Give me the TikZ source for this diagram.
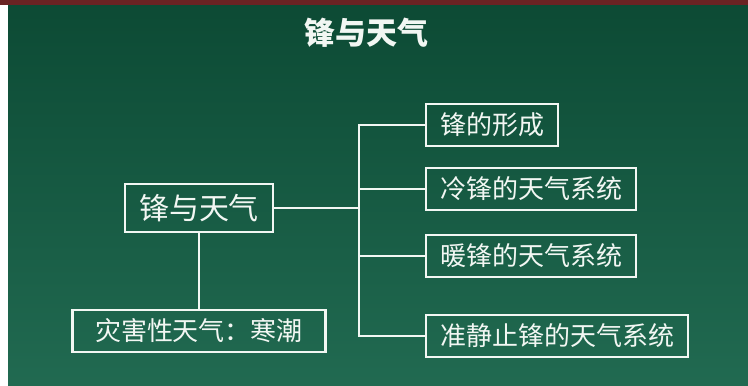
\documentclass[tikz,border=0pt]{standalone}
\usepackage{fontspec}
\setmainfont{Noto Sans CJK SC}
\usepackage{tikz}
\definecolor{boardTop}{HTML}{0C4A34}
\definecolor{boardBot}{HTML}{216A51}
\definecolor{boardRim}{HTML}{6A2323}
\definecolor{chalk}{HTML}{F2F7F3}
\tikzset{%
  % Specifications for style of nodes:
        base/.style = {rectangle, draw=chalk, line width=2.4pt,
                       text=chalk, inner xsep=14pt, inner ysep=0pt,
                       minimum height=42pt},
    mainTopic/.style = {base, minimum height=48pt,
                       font=\fontsize{30}{32}\selectfont},
     subTopic/.style = {base, anchor=west,
                       font=\fontsize{26}{28}\selectfont},
    hazardBox/.style = {base, minimum width=253pt,
                       font=\fontsize{26}{28}\selectfont},
       branch/.style = {draw=chalk, line width=2.4pt},
}

\begin{document}
\begin{tikzpicture}[x=1pt, y=-1pt]
  % board
  \useasboundingbox (0,0) rectangle (748,386);
  \shade[top color=boardTop, bottom color=boardBot] (0,0) rectangle (748,386);
  \fill[white] (0,0) rectangle (8,386);
  \fill[boardRim] (0,0) rectangle (748,5);
  % Specification of nodes (position, etc.)
  \node (title) [text=chalk, font=\fontsize{31}{33}\selectfont\bfseries]
      at (366,33) {锋与天气};
  \node (front)  [mainTopic] at (199,208)  {锋与天气};
  \node (hazard) [hazardBox] at (199,331)  {灾害性天气：寒潮};
  \node (form)   [subTopic]  at (425,125)  {锋的形成};
  \node (cold)   [subTopic]  at (425,189)  {冷锋的天气系统};
  \node (warm)   [subTopic]  at (425,256)  {暖锋的天气系统};
  \node (still)  [subTopic]  at (425,336)  {准静止锋的天气系统};
  \coordinate (spine) at (359,208);
  % connectors
  \draw[branch] (front.east) -- (spine);
  \draw[branch] (front.south) -- (hazard.north);
  \draw[branch] (form.west)  -| (spine);
  \draw[branch] (cold.west)  -| (spine);
  \draw[branch] (warm.west)  -| (spine);
  \draw[branch] (still.west) -| (spine);
\end{tikzpicture}
\end{document}
